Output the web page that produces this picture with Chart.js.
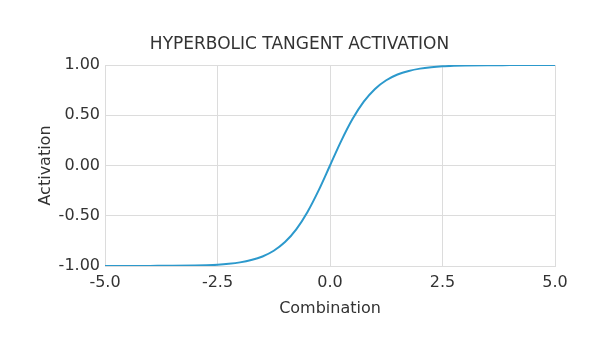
<!DOCTYPE html>
<html>
<head>
<meta charset="utf-8">
<script src="https://cdn.jsdelivr.net/npm/chart.js@4.4.1/dist/chart.umd.min.js"></script>
<style>
  html, body { margin: 0; padding: 0; background: #fff; }
</style>
</head>
<body>
<canvas id="tanh-chart" width="600" height="350"></canvas>
<script>
// values
var combination = [-5.0, -4.5, -4.0, -3.5, -3.0, -2.75, -2.5, -2.25, -2.0, -1.75, -1.5, -1.25, -1.0, -0.75, -0.5, -0.25,
  0.0, 0.25, 0.5, 0.75, 1.0, 1.25, 1.5, 1.75, 2.0, 2.25, 2.5, 2.75, 3.0, 3.5, 4.0, 4.5, 5.0];
var activation = [-1.0, -1.0, -0.999, -0.998, -0.995, -0.992, -0.987, -0.978, -0.964, -0.941, -0.905, -0.848, -0.762, -0.635, -0.462, -0.245,
  0.0, 0.245, 0.462, 0.635, 0.762, 0.848, 0.905, 0.941, 0.964, 0.978, 0.987, 0.992, 0.995, 0.998, 0.999, 1.0, 1.0];
var xTicks = [-5.0, -2.5, 0.0, 2.5, 5.0];
var yTicks = [-1.0, -0.5, 0.0, 0.5, 1.0];

var points = [];
for (var i = 0; i < combination.length; i++) {
  points.push({ x: combination[i], y: activation[i] });
}

var textColor = "#333";
var gridColor = "#dcdcdc";
var titleFont = { family: "DejaVu Sans", size: 17, weight: "normal" };
var labelFont = { family: "DejaVu Sans", size: 16 };
var tickFont = { family: "DejaVu Sans", size: 16 };

new Chart(document.getElementById("tanh-chart"), {
  type: "line",
  data: {
    datasets: [{
      label: "Activation",
      data: points,
      borderColor: "#2c99cc",
      borderWidth: 2,
      pointRadius: 0,
      fill: false,
      cubicInterpolationMode: "monotone"
    }]
  },
  options: {
    responsive: false,
    animation: false,
    // left padding keeps the title centred on the canvas like the original
    layout: { padding: { left: 44, right: 45, top: 0, bottom: 28 } },
    plugins: {
      legend: { display: false },
      tooltip: { enabled: false },
      title: {
        display: true,
        text: "HYPERBOLIC TANGENT ACTIVATION",
        color: textColor,
        font: titleFont,
        padding: { top: 34, bottom: 10.6 }
      }
    },
    scales: {
      x: {
        type: "linear",
        min: -5, max: 5,
        afterBuildTicks: function (s) { s.ticks = xTicks.map(function (v) { return { value: v }; }); },
        afterFit: function (s) { s.height = 56; },
        ticks: { color: textColor, font: tickFont, padding: 7, maxRotation: 0,
          callback: function (v) { return v.toFixed(1); } },
        grid: { color: gridColor, drawTicks: false },
        border: { color: gridColor },
        title: { display: true, text: "Combination", color: textColor, font: labelFont }
      },
      y: {
        min: -1, max: 1,
        afterBuildTicks: function (s) { s.ticks = yTicks.map(function (v) { return { value: v }; }); },
        afterFit: function (s) { s.width = 61; },
        ticks: { color: textColor, font: tickFont, padding: 5,
          callback: function (v) { return v.toFixed(2); } },
        grid: { color: gridColor, drawTicks: false },
        border: { color: gridColor },
        title: { display: true, text: "Activation", color: textColor, font: labelFont,
          padding: { top: -8, bottom: 4 } }
      }
    }
  }
});
</script>
</body>
</html>
